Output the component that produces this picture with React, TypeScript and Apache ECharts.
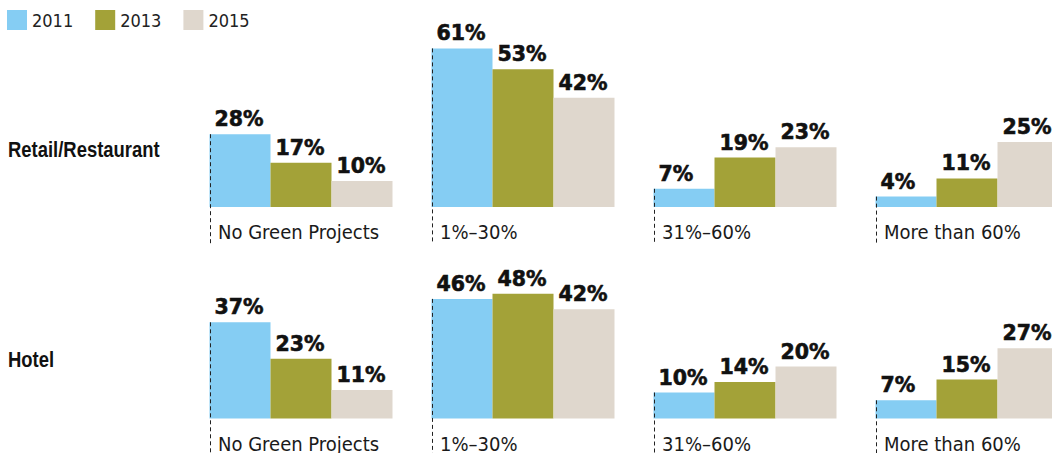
import React, { useEffect, useRef } from "react";
import * as echarts from "echarts";

const categories = ["No Green Projects", "1%–30%", "31%–60%", "More than 60%"];
const years = ["2011", "2013", "2015"];
const retail2011 = [28, 61, 7, 4];
const retail2013 = [17, 53, 19, 11];
const retail2015 = [10, 42, 23, 25];
const hotel2011 = [37, 46, 10, 7];
const hotel2013 = [23, 48, 14, 15];
const hotel2015 = [11, 42, 20, 27];
const rowLabels = ["Retail/Restaurant", "Hotel"];

const COLORS = ["#85CDF3", "#A3A238", "#DFD7CD"];
const BAR_W = 61;
const CAT_FONT = '"DejaVu Sans Condensed", sans-serif';
const ROW_FONT = '"Liberation Sans", Arial, sans-serif';
const VAL_FONT = '"DejaVu Sans", sans-serif';

export default function App() {
  const ref = useRef<HTMLDivElement>(null);
  useEffect(() => {
    if (!ref.current) return;
    const chart = echarts.init(ref.current, null, { renderer: "svg" });
    const rows = [
      { vals: [retail2011, retail2013, retail2015], grid: 0 },
      { vals: [hotel2011, hotel2013, hotel2015], grid: 1 },
    ];
    const series: any[] = [];
    rows.forEach((row) => {
      row.vals.forEach((v, k) => {
        series.push({
          type: "bar",
          name: years[k],
          xAxisIndex: row.grid,
          yAxisIndex: row.grid,
          data: v,
          barWidth: BAR_W,
          barGap: "0%",
          itemStyle: { color: COLORS[k] },
          label: {
            show: true,
            position: [5, -5],
            align: "left",
            verticalAlign: "bottom",
            formatter: "{c}%",
            fontFamily: VAL_FONT,
            fontWeight: "bold",
            fontSize: 20.5,
            lineHeight: 20,
            color: "#111",
            textBorderColor: "#111",
            textBorderWidth: 0.6,
          },
          emphasis: { disabled: true },
          z: 2,
        });
      });
      series.push({
        type: "custom",
        xAxisIndex: row.grid,
        yAxisIndex: row.grid,
        clip: false,
        z: 5,
        silent: true,
        data: categories.map((c, i) => [i, row.vals[0][i]]),
        renderItem: (params: any, api: any) => {
          const idx = api.value(0);
          const top = api.coord([idx, api.value(1)]);
          const base = api.coord([idx, 0]);
          const lx = Math.round(top[0] - (BAR_W * 3) / 2) + 0.5;
          return {
            type: "group",
            children: [
              {
                type: "line",
                shape: { x1: lx, y1: top[1], x2: lx, y2: base[1] + 37 },
                style: { stroke: "#222", lineWidth: 1, lineDash: [4, 3] },
              },
              {
                type: "text",
                x: lx + 7.5,
                y: base[1] + 25,
                style: {
                  text: categories[idx],
                  fontFamily: CAT_FONT,
                  fontSize: 20,
                  fill: "#1a1a1a",
                  align: "left",
                  verticalAlign: "middle",
                },
              },
            ],
          };
        },
      });
    });

    const rowText = (text: string, y: number) => ({
      type: "text",
      x: 8,
      y,
      scaleX: 0.82,
      style: {
        text,
        fontFamily: ROW_FONT,
        fontWeight: "bold",
        fontSize: 22.5,
        fill: "#111",
        verticalAlign: "middle",
      },
    });

    chart.setOption({
      animation: false,
      legend: {
        data: years,
        left: 7,
        top: 10,
        padding: 0,
        itemWidth: 20,
        itemHeight: 20,
        itemGap: 22,
        icon: "rect",
        selectedMode: false,
        textStyle: { fontFamily: CAT_FONT, fontSize: 18, color: "#222" },
      },
      grid: [
        { left: 190, width: 888, top: 25, height: 182 },
        { left: 190, width: 888, top: 236.5, height: 182 },
      ],
      xAxis: [0, 1].map((g) => ({
        type: "category",
        gridIndex: g,
        data: categories,
        show: false,
      })),
      yAxis: [0, 1].map((g) => ({
        type: "value",
        gridIndex: g,
        min: 0,
        max: 70,
        show: false,
      })),
      graphic: [rowText(rowLabels[0], 149), rowText(rowLabels[1], 359)],
      series,
    });
    return () => chart.dispose();
  }, []);
  return (
    <div
      style={{
        position: "absolute",
        left: 0,
        top: 0,
        width: 1052,
        height: 453,
        overflow: "hidden",
        background: "#fff",
      }}
    >
      <div ref={ref} style={{ width: 1100, height: 453 }} />
    </div>
  );
}
